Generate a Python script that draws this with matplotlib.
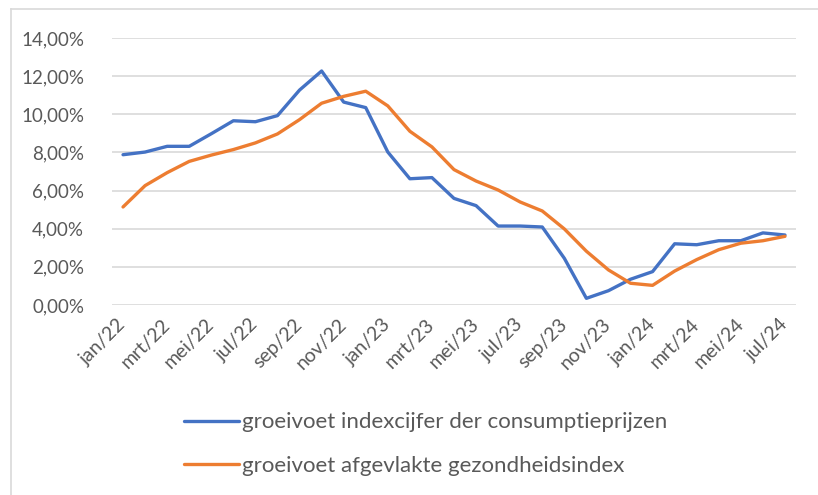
#line chart: growth of consumer price index vs smoothed health index
import matplotlib.pyplot as plt
from matplotlib.lines import Line2D
from matplotlib.ticker import FuncFormatter

months = ['jan', 'feb', 'mrt', 'apr', 'mei', 'jun', 'jul', 'aug', 'sep', 'okt', 'nov', 'dec']
labels = [m + '/' + str(y) for y in (22, 23, 24) for m in months][:31]

cpi = [7.88, 8.02, 8.32, 8.32, 8.98, 9.66, 9.61, 9.93, 11.27, 12.27, 10.64, 10.35,
       8.02, 6.62, 6.68, 5.59, 5.21, 4.14, 4.14, 4.09, 2.45, 0.35, 0.75, 1.35,
       1.75, 3.21, 3.16, 3.37, 3.37, 3.78, 3.67]
gezond = [5.14, 6.26, 6.94, 7.53, 7.86, 8.15, 8.50, 8.97, 9.72, 10.58, 10.94, 11.21,
          10.44, 9.11, 8.29, 7.10, 6.50, 6.03, 5.40, 4.93, 3.99, 2.82, 1.84, 1.14,
          1.03, 1.78, 2.38, 2.90, 3.24, 3.37, 3.60]

names = ['groeivoet indexcijfer der consumptieprijzen',
         'groeivoet afgevlakte gezondheidsindex']

grey = '#595959'
plt.rcParams['font.family'] = ['Lato', 'DejaVu Sans']

fig = plt.figure(figsize=(8.18, 4.95), dpi=100)
ax = fig.add_axes([112/818, 1-305/495, (796-112)/818, (305-38)/495])

x = list(range(len(labels)))
ax.plot(x, cpi, color='#4472C4', lw=2.4, label=names[0], solid_capstyle='round')
ax.plot(x, gezond, color='#ED7D31', lw=2.4, label=names[1], solid_capstyle='round')

ax.set_xlim(-0.5, len(labels) - 0.5)
ax.set_ylim(0, 14)
ax.set_yticks(range(0, 15, 2))
ax.yaxis.set_major_formatter(FuncFormatter(lambda v, p: ('%.2f%%' % v).replace('.', ',')))
ax.set_xticks(x[::2])
ax.set_xticklabels(labels[::2], rotation=45, ha='right', va='center',
                   rotation_mode='anchor')
ax.tick_params(axis='both', length=0, colors=grey, labelsize=13.5)
ax.tick_params(axis='y', pad=20)
ax.tick_params(axis='x', pad=12, labelsize=14)
ax.grid(axis='y', color='#d9d9d9', lw=1.2)
ax.set_axisbelow(True)
for s in ax.spines.values():
    s.set_visible(False)

fig.legend(loc='center', bbox_to_anchor=(0.52, 0.103), frameon=False,
           fontsize=16, labelcolor=grey, handlelength=2.5, handletextpad=0.1,
           labelspacing=1.05)

# chart frame (left and top edge visible in the screenshot)
fig.add_artist(Line2D([10.5/818, 10.5/818], [0, 1-9/495], color='#d9d9d9', lw=1.2))
fig.add_artist(Line2D([10.5/818, 1], [1-9/495, 1-9/495], color='#d9d9d9', lw=1.2))

fig.savefig('out.png', dpi=100)
